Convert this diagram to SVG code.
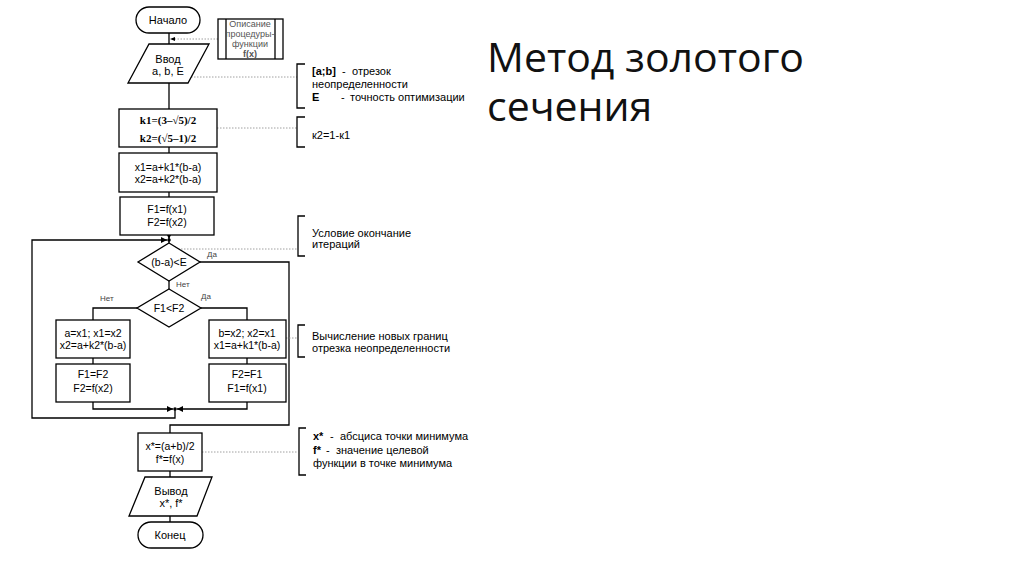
<svg xmlns="http://www.w3.org/2000/svg" width="1024" height="574" viewBox="0 0 1024 574">
<defs>
<style>
.s{fill:#fff;stroke:#000;stroke-width:1.3}
.c{fill:none;stroke:#000;stroke-width:1.3}
.d{fill:none;stroke:#888;stroke-width:0.8;stroke-dasharray:1.5 1.5}
.b{fill:none;stroke:#000;stroke-width:1.3}
text{font-family:"Liberation Sans",Arial,sans-serif;font-size:10.5px;fill:#000}
.m{text-anchor:middle}
.n{font-size:11px}
.g{fill:#555;font-size:9px}
.l{font-size:8px;fill:#444}
.k{font-family:"Liberation Serif","Times New Roman",serif;font-weight:bold;font-size:11px}
.t{font-family:"Open Sans","Noto Sans",sans-serif;font-size:41px;fill:#111}
</style>
<marker id="a" viewBox="0 0 8 8" refX="8" refY="4" markerWidth="6" markerHeight="6" orient="auto" markerUnits="userSpaceOnUse"><path d="M0,0 L8,4 L0,8 z" fill="#000"/></marker>
</defs>
<rect width="1024" height="574" fill="#fff"/>

<g id="connectors">
<path class="c" d="M169,33 V44"/>
<path class="c" d="M169,83 V109"/>
<path class="c" d="M169,147 V153"/>
<path class="c" d="M169,192 V197"/>
<path class="c" d="M169,235 V239" marker-end="url(#a)"/>
<path class="c" d="M169,240 V243"/>
<path class="c" d="M169,281 V289"/>
<path class="c" d="M137,308 H93 V320"/>
<path class="c" d="M201,308 H247 V320"/>
<path class="c" d="M93,358 V364"/>
<path class="c" d="M247,358 V364"/>
<path class="c" d="M93,402 V409 H173" marker-end="url(#a)"/>
<path class="c" d="M247,402 V409 H177" marker-end="url(#a)"/>
<path class="c" d="M175,409 V418 H32 V240 H167" marker-end="url(#a)"/>
<circle cx="169" cy="240" r="1.8" fill="#000"/>
<circle cx="175" cy="409" r="1.8" fill="#000"/>
<path class="c" d="M200,262 H289 V425 H170 V433"/>
<path class="c" d="M170,471 V477"/>
<path class="c" d="M170,516 V522"/>
<path class="d" d="M218,39 H172"/>
<path d="M170,39 L175,37 L175,41 z" fill="#000"/>
<path class="d" d="M191,77 H297"/>
<path class="d" d="M217,128 H297"/>
<path class="d" d="M178,249 H297"/>
<path class="d" d="M286,338 H297"/>
<path class="d" d="M202,452 H297"/>
</g>

<g id="start">
<rect class="s" x="136" y="7" width="64" height="26" rx="13"/>
<text class="m n" x="168" y="24">Начало</text>
</g>

<g id="procedure">
<rect class="s" x="218" y="19" width="65" height="40"/>
<path class="c" d="M226,19 V59 M275,19 V59"/>
<text class="m g" x="250" y="27">Описание</text>
<text class="m g" x="250" y="37">процедуры-</text>
<text class="m g" x="250" y="47">функции</text>
<text class="m g" x="250" y="57" font-weight="bold" fill="#000">f(x)</text>
</g>

<g id="input">
<polygon class="s" points="149,44 209,44 188,83 128,83"/>
<text class="m n" x="168" y="63">Ввод</text>
<text class="m n" x="168" y="75">a, b, E</text>
</g>

<g id="kbox">
<rect class="s" x="119" y="109" width="98" height="38"/>
<text class="m k" x="168" y="124">k1=(3–√5)/2</text>
<text class="m k" x="168" y="142">k2=(√5–1)/2</text>
</g>

<g id="xbox">
<rect class="s" x="119" y="153" width="98" height="39"/>
<text class="m" x="168" y="171">x1=a+k1*(b-a)</text>
<text class="m" x="168" y="183">x2=a+k2*(b-a)</text>
</g>

<g id="fbox">
<rect class="s" x="120" y="197" width="94" height="38"/>
<text class="m" x="167" y="213">F1=f(x1)</text>
<text class="m" x="167" y="226">F2=f(x2)</text>
</g>

<g id="cond1">
<polygon class="s" points="169,243 200,262 169,281 138,262"/>
<text class="m" x="169" y="266">(b-a)&lt;E</text>
<text class="l" x="207" y="257">Да</text>
<text class="l" x="176" y="287">Нет</text>
</g>

<g id="cond2">
<polygon class="s" points="169,289 201,308 169,327 137,308"/>
<text class="m" x="169" y="312">F1&lt;F2</text>
<text class="l" x="100" y="301">Нет</text>
<text class="l" x="201" y="299">Да</text>
</g>

<g id="left1">
<rect class="s" x="56" y="320" width="74" height="38"/>
<text class="m" x="93" y="337">a=x1; x1=x2</text>
<text class="m" x="93" y="349">x2=a+k2*(b-a)</text>
</g>
<g id="left2">
<rect class="s" x="56" y="364" width="74" height="38"/>
<text class="m" x="93" y="378">F1=F2</text>
<text class="m" x="93" y="392">F2=f(x2)</text>
</g>
<g id="right1">
<rect class="s" x="209" y="320" width="77" height="38"/>
<text class="m" x="247" y="337">b=x2; x2=x1</text>
<text class="m" x="247" y="349">x1=a+k1*(b-a)</text>
</g>
<g id="right2">
<rect class="s" x="209" y="364" width="77" height="38"/>
<text class="m" x="247" y="378">F2=F1</text>
<text class="m" x="247" y="392">F1=f(x1)</text>
</g>

<g id="result">
<rect class="s" x="138" y="433" width="64" height="38"/>
<text class="m" x="170" y="450">x*=(a+b)/2</text>
<text class="m" x="170" y="463">f*=f(x)</text>
</g>

<g id="output">
<polygon class="s" points="145,477 212,477 197,516 129,516"/>
<text class="m n" x="171" y="495">Вывод</text>
<text class="m n" x="171" y="507">x*, f*</text>
</g>

<g id="end">
<rect class="s" x="138" y="522" width="65" height="26" rx="13"/>
<text class="m n" x="170" y="539">Конец</text>
</g>

<g id="note1">
<path class="b" d="M305,64 H297 V108 H305"/>
<text class="n" x="312" y="75"><tspan font-weight="bold">[a;b]</tspan><tspan x="342">-</tspan><tspan x="352">отрезок</tspan></text>
<text class="n" x="312" y="88">неопределенности</text>
<text class="n" x="312" y="101"><tspan font-weight="bold">E</tspan><tspan x="341">-</tspan><tspan x="350">точность оптимизации</tspan></text>
</g>
<g id="note2">
<path class="b" d="M305,117 H297 V147 H305"/>
<text class="n" x="312" y="139">к2=1-к1</text>
</g>
<g id="note3">
<path class="b" d="M305,216 H298 V256 H305"/>
<text class="n" x="312" y="237">Условие  окончание</text>
<text class="n" x="312" y="248">итераций</text>
</g>
<g id="note4">
<path class="b" d="M305,325 H298 V357 H305"/>
<text class="n" x="312" y="340">Вычисление новых границ</text>
<text class="n" x="312" y="352">отрезка неопределенности</text>
</g>
<g id="note5">
<path class="b" d="M306,428 H299 V475 H306"/>
<text class="n" x="313" y="440"><tspan font-weight="bold">x*</tspan><tspan x="330">-</tspan><tspan x="340">абсциса точки минимума</tspan></text>
<text class="n" x="313" y="454"><tspan font-weight="bold">f*</tspan><tspan x="326">-</tspan><tspan x="336">значение целевой</tspan></text>
<text class="n" x="313" y="467">функции в точке минимума</text>
</g>

<g id="title">
<text class="t" x="487" y="72">Метод золотого<tspan x="487" dy="49">сечения</tspan></text>
</g>
</svg>
